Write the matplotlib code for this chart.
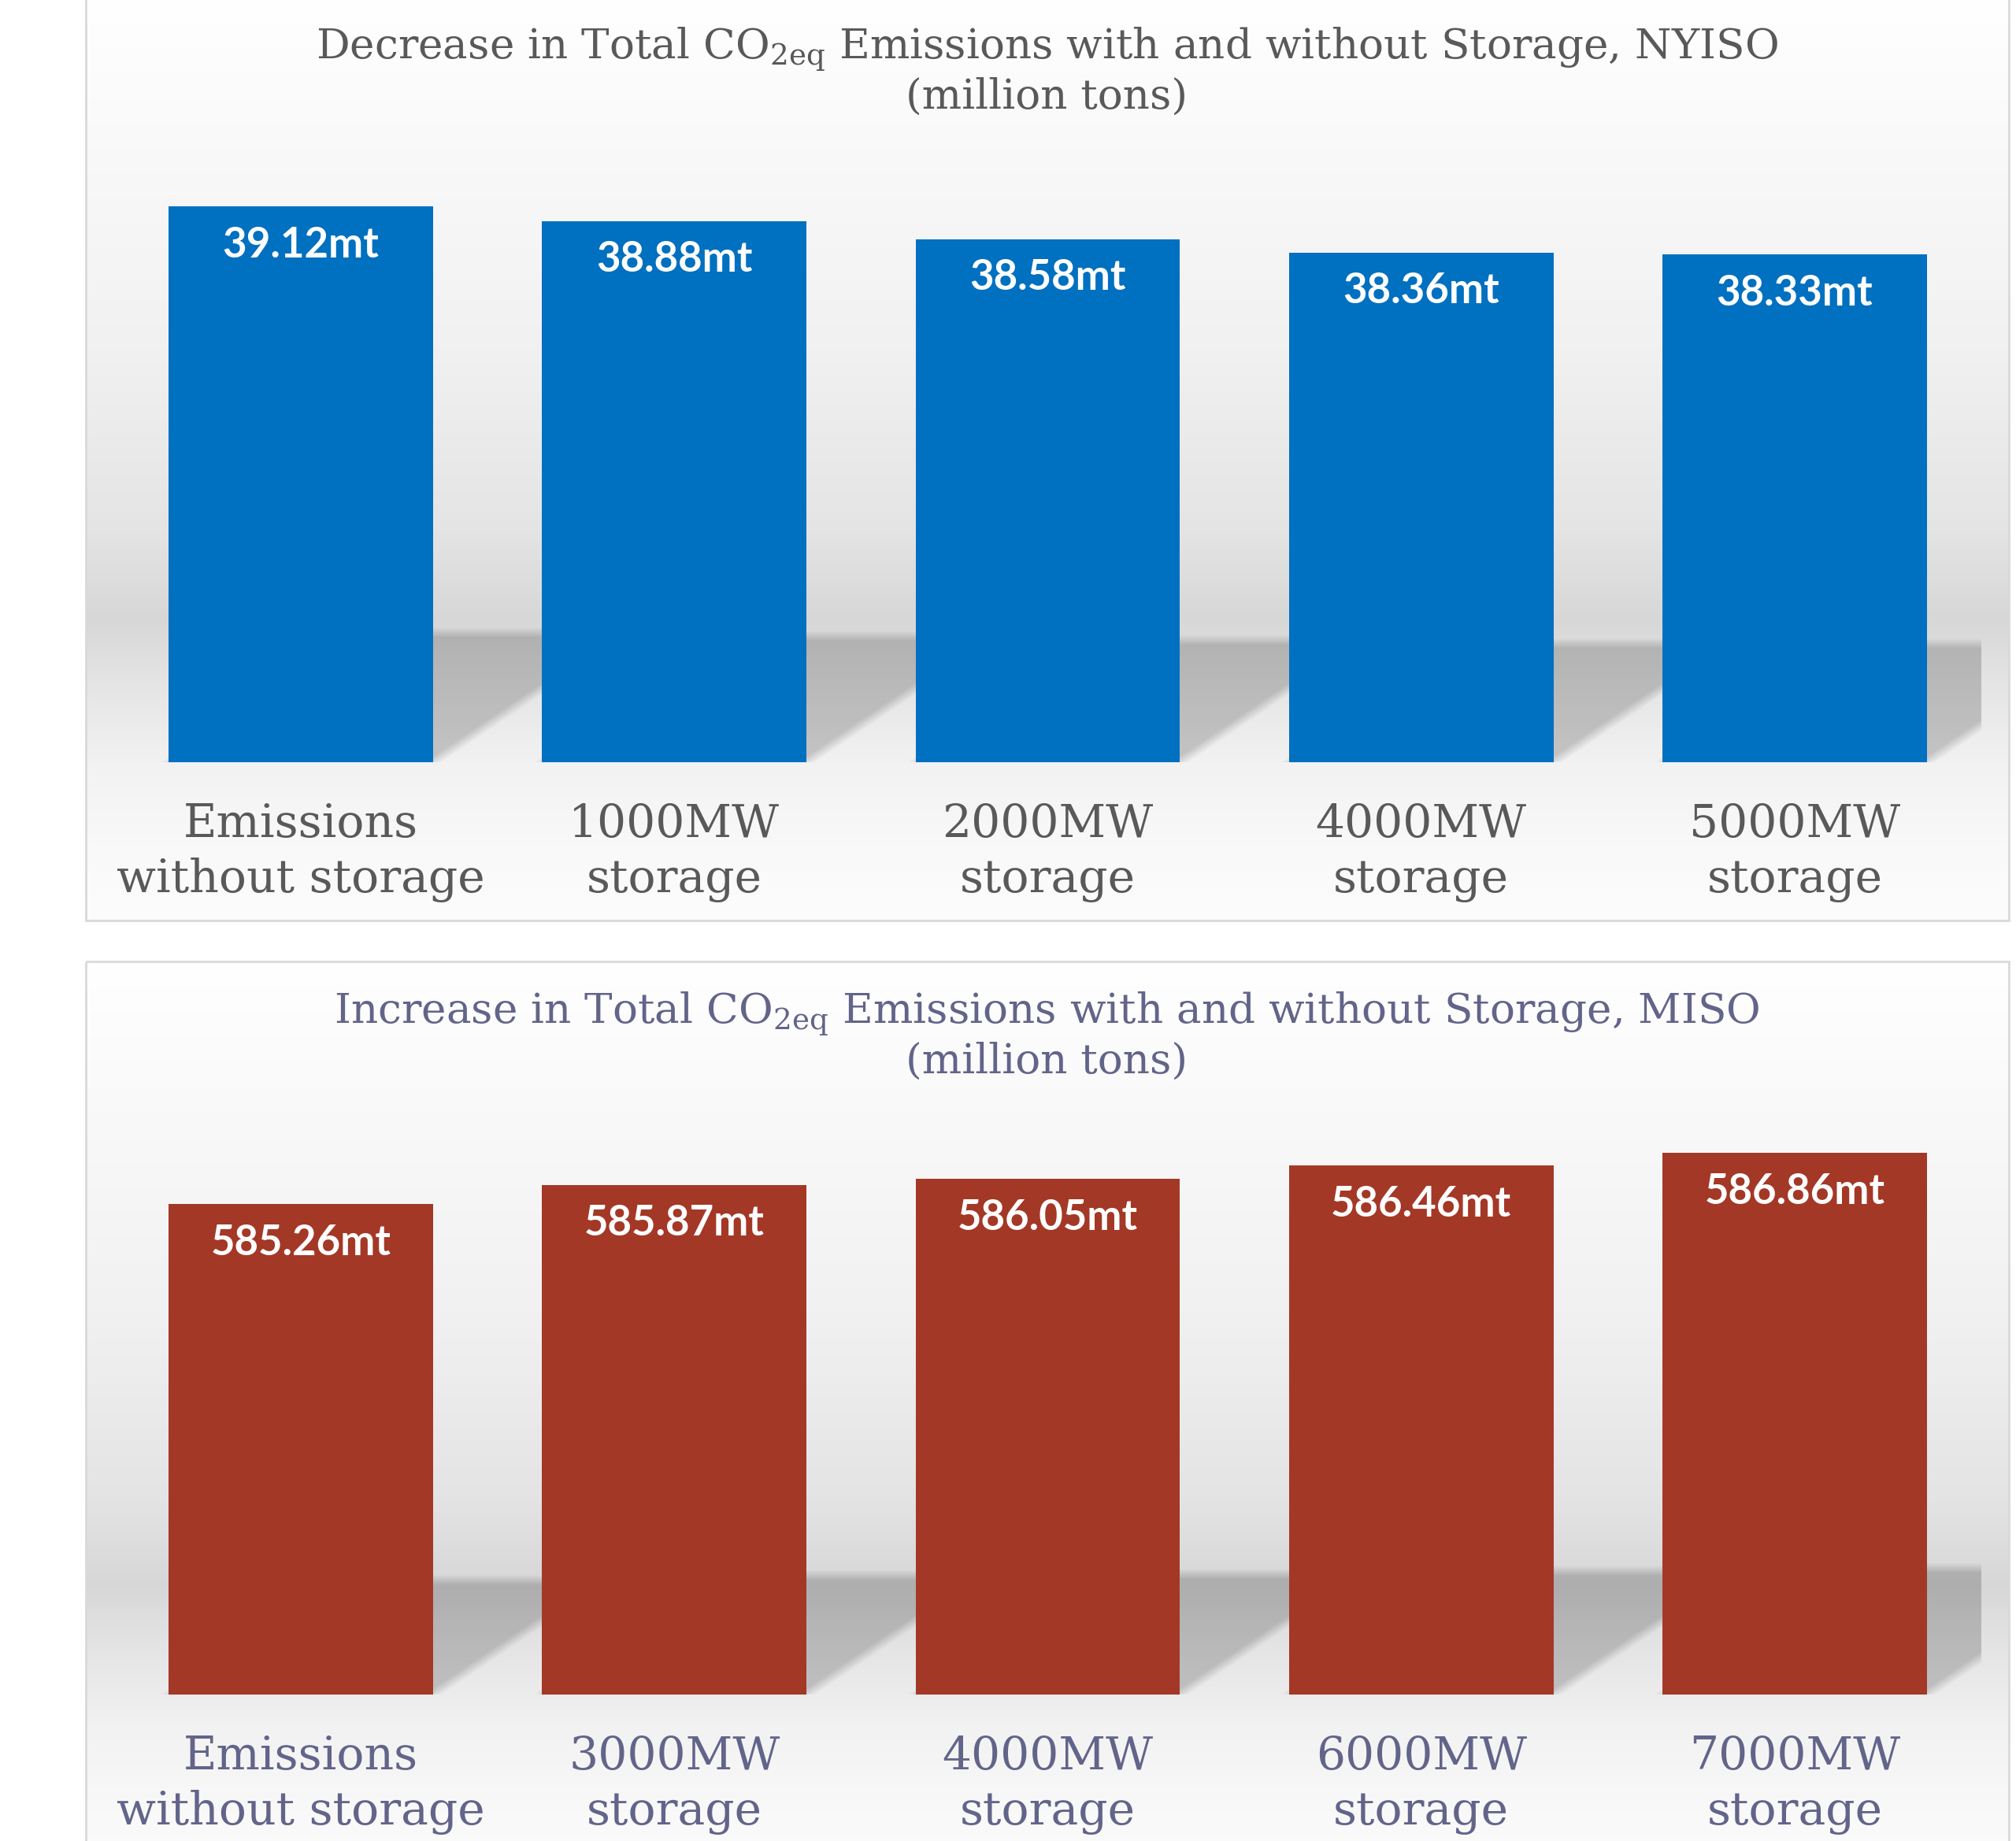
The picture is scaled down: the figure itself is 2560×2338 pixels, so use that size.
import numpy as np
import matplotlib
matplotlib.use("Agg")
import matplotlib.pyplot as plt
from matplotlib.patches import Rectangle

plt.rcParams["mathtext.fontset"] = "dejavuserif"

# NYISO panel (top)
nyiso_labels = ["Emissions\nwithout storage", "1000MW\nstorage", "2000MW\nstorage",
                "4000MW\nstorage", "5000MW\nstorage"]
nyiso_values = [39.12, 38.88, 38.58, 38.36, 38.33]

# MISO panel (bottom)
miso_labels = ["Emissions\nwithout storage", "3000MW\nstorage", "4000MW\nstorage",
               "6000MW\nstorage", "7000MW\nstorage"]
miso_values = [585.26, 585.87, 586.05, 586.46, 586.86]

W, H = 2560, 2338
DPI = 100
fig = plt.figure(figsize=(W / DPI, H / DPI), dpi=DPI)
fig.patch.set_facecolor("white")


def px_rect(x0, y0, x1, y1):
    # pixel box (y measured from top) -> figure fraction
    return [x0 / W, 1 - y1 / H, (x1 - x0) / W, (y1 - y0) / H]


bg = fig.add_axes([0, 0, 1, 1])
bg.axis("off")

# vertical gradient of the chart area (white -> grey band -> white)
grad_pos = [0.0, 0.38, 0.58, 0.675, 0.74, 0.83, 0.92, 1.0]
grad_val = [255, 241, 228, 215, 228, 242, 249, 252]


def panel(y0, y1, x0=109, x1=2551):
    t = np.linspace(0, 1, 800)
    g = np.interp(t, grad_pos, grad_val) / 255
    img = np.dstack([np.repeat(g[:, None], 2, axis=1)] * 3)
    bg.imshow(img, extent=(x0, x1, y1, y0), aspect="auto",
              interpolation="bilinear", zorder=0)
    bg.add_patch(Rectangle((x0, y0), x1 - x0, y1 - y0, fill=False,
                           ec="#d9d9d9", lw=2, zorder=1))


panel(-3, 1169)
panel(1221, 2395)
bg.set_xlim(0, W)
bg.set_ylim(H, 0)


def draw_shadow(ax, x, vals, width, ymin, scale=0.234, k=1.48, blur=13):
    # soft perspective shadow falling up and to the right of each bar
    bb = ax.get_window_extent()
    nx, ny = int(bb.width), int(bb.height)
    px = np.arange(nx) + 0.5
    py = np.arange(ny) + 0.5
    alpha = np.zeros((ny, nx))
    n = np.hypot(1, k)
    for xi, v in zip(x, vals):
        l, b = ax.transData.transform((xi - width / 2, ymin)) - (bb.x0, bb.y0)
        r, t = ax.transData.transform((xi + width / 2, v)) - (bb.x0, bb.y0)
        hs = scale * (t - b)
        yy = py[:, None] - b
        xx = px[None, :]
        a_top = np.clip((hs - yy) / blur + 0.5, 0, 1)
        a_bot = np.clip(yy / 2 + 0.5, 0, 1)
        a_r = np.clip(((r + k * yy) - xx) / n / blur + 0.5, 0, 1)
        a_l = np.clip((xx - (l + k * yy)) / n / blur + 0.5, 0, 1)
        alpha = np.maximum(alpha, a_top * a_bot * a_r * a_l)
    img = np.zeros((ny, nx, 4))
    img[..., 3] = alpha * 0.19
    xl, yl = ax.get_xlim(), ax.get_ylim()
    ax.imshow(img, extent=(xl[0], xl[1], yl[0], yl[1]), origin="lower",
              aspect="auto", interpolation="bilinear", zorder=1)
    ax.set_xlim(xl)
    ax.set_ylim(yl)


def bar_panel(rect, labels, values, ylim, color, text_color):
    ax = fig.add_axes(px_rect(*rect))
    ax.set_facecolor("none")
    x = np.arange(len(values))
    width = 0.708
    ax.set_xlim(-0.5, len(values) - 0.5)
    ax.set_ylim(*ylim)
    draw_shadow(ax, x, values, width, ylim[0])
    ax.bar(x, values, width=width, color=color, zorder=2)
    ax.set_ylim(*ylim)
    for xi, v in zip(x, values):
        ax.annotate(f"{v:.2f}mt", (xi, v), xytext=(0, -49 * 72 / DPI),
                    textcoords="offset points", ha="center", va="center",
                    color="white", fontsize=38, fontweight="bold",
                    family="Lato", zorder=3)
    ax.set_xticks(x)
    ax.set_xticklabels(labels, fontsize=42, family="DejaVu Serif",
                       color=text_color, linespacing=1.31)
    ax.tick_params(axis="x", length=0, pad=37)
    ax.set_yticks([])
    for s in ax.spines.values():
        s.set_visible(False)
    return ax


top_color = "#595959"
bot_color = "#62648a"

bar_panel((145, 194, 2516, 968), nyiso_labels, nyiso_values, (30, 40),
          "#0070c0", top_color)
bar_panel((145, 1336, 2516, 2152), miso_labels, miso_values, (570, 590),
          "#a43826", bot_color)

title_kw = dict(ha="center", va="baseline", fontsize=38.3, family="DejaVu Serif")
bg.text(1329, 75, "Decrease in Total CO$_{\\rm 2eq}$ Emissions with and without Storage, NYISO",
        color=top_color, **title_kw)
bg.text(1329, 138, "(million tons)", color=top_color, **title_kw)
bg.text(1329, 1300, "Increase in Total CO$_{\\rm 2eq}$ Emissions with and without Storage, MISO",
        color=bot_color, **title_kw)
bg.text(1329, 1363, "(million tons)", color=bot_color, **title_kw)

fig.savefig("out.png", dpi=DPI)
